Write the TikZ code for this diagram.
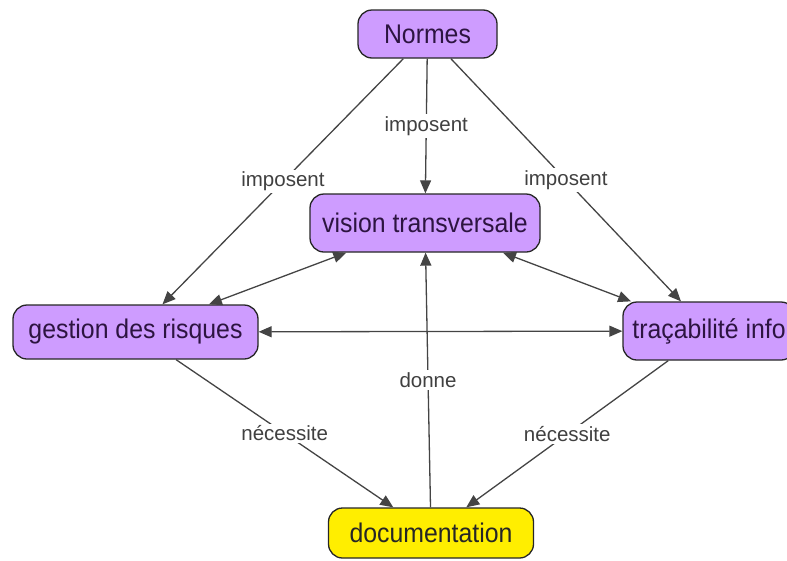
\documentclass[tikz,border=0pt]{standalone}
\usepackage{fontspec}
\setmainfont{Liberation Sans}
\newfontfamily\boxfont[FakeStretch=0.92]{Liberation Sans}
\usetikzlibrary{arrows.meta}
\definecolor{mauve}{RGB}{206,156,255}
\definecolor{jaune}{RGB}{255,238,0}
\definecolor{trait}{RGB}{68,68,68}
\definecolor{encre}{RGB}{45,20,65}

\begin{document}
\begin{tikzpicture}[x=1pt,y=-1pt,
	concept/.style={draw=black!85, line width=1.3pt, rounded corners=14pt, fill=mauve,
		text=encre, font=\boxfont\fontsize{27}{30}\selectfont, inner sep=0pt},
	lien/.style={draw=trait, line width=1.3pt, -{Triangle[length=13pt,width=11pt]}},
	lienbi/.style={lien, {Triangle[length=13pt,width=11pt]}-{Triangle[length=13pt,width=11pt]}},
	etiq/.style={fill=white, text=black!75, inner sep=2pt, font=\fontsize{20.5}{24}\selectfont}]
			%%%%% START %%%%%
			\useasboundingbox (0,0) rectangle (787,560);
			\clip (0,0) rectangle (787,560);
			
			\node[concept, minimum width=139pt, minimum height=48pt] (normes) at (427.5,34) {Normes};
			\node[concept, minimum width=230pt, minimum height=58pt] (vision) at (425,223) {vision transversale};
			\node[concept, minimum width=245pt, minimum height=54pt] (gestion) at (135.5,332) {gestion des risques};
			\node[concept, minimum width=172pt, minimum height=58pt] (traca) at (709,331) {traçabilité info};
			\node[concept, fill=jaune, text=black!85, minimum width=205pt, minimum height=50pt] (doc) at (431,533) {documentation};
			
			\draw[lien] (normes) -- node[etiq] {imposent} (gestion);
			\draw[lien] (normes) -- node[etiq] {imposent} (vision);
			\draw[lien] (normes) -- node[etiq] {imposent} (traca);
			
			\draw[lienbi] (vision) -- (gestion);
			\draw[lienbi] (vision) -- (traca);
			\draw[lienbi] (gestion) -- (traca);
			
			\draw[lien] (gestion) -- node[etiq] {nécessite} (doc);
			\draw[lien] (traca) -- node[etiq] {nécessite} (doc);
			\draw[lien] (doc) -- node[etiq] {donne} (vision);
			%%%%% END %%%%%
\end{tikzpicture}
\end{document}
